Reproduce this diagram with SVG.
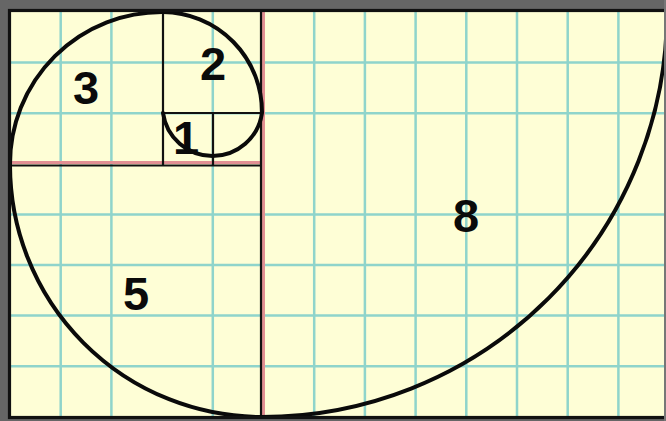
<svg xmlns="http://www.w3.org/2000/svg" width="666" height="421" viewBox="0 0 666 421">
  <style>
    .grid { stroke: #8fd4cb; stroke-width: 2.5; fill: none; }
    .edge { stroke: #111; stroke-width: 2.2; fill: none; }
    .pink { stroke: #e28f93; stroke-width: 3; fill: none; }
    .spiral { stroke: #0a0a0a; stroke-width: 4; fill: none; stroke-linecap: round; }
    .num { font-family: "Liberation Sans", Arial, sans-serif; font-weight: bold; font-size: 47px; fill: #0a0a0a; text-anchor: middle; }
  </style>
  <rect x="0" y="0" width="666" height="421" fill="#666666"/>
  <rect x="9" y="10" width="656" height="408" fill="#fefed6"/>
  <g id="grid">
    <path class="grid" d="M60.7,12V417M111.4,12V417M212.8,12V417M314.2,12V417M364.9,12V417M415.6,12V417M466.3,12V417M517,12V417M567.7,12V417M618.4,12V417"/>
    <path class="grid" d="M10,62.6H665M10,113.2H665M10,214.4H665M10,265H665M10,315.6H665M10,366.2H665"/>
  </g>
  <g id="square-8"><text class="num" x="466" y="232">8</text></g>
  <g id="square-5"><text class="num" x="136" y="310">5</text></g>
  <g id="square-3"><text class="num" x="86" y="104">3</text></g>
  <g id="square-2"><text class="num" x="213" y="80">2</text></g>
  <g id="square-1a"><text class="num" x="186" y="154">1</text></g>
  <g id="square-1b"></g>
  <g id="dividers">
    <path class="pink" d="M10,162.5H262"/>
    <path class="pink" d="M263.5,12V417"/>
    <path class="edge" d="M10,165.5H262"/>
    <path class="edge" d="M261,12V417"/>
    <path class="edge" d="M163,12V165M163,113H261M213,113V165"/>
  </g>
  <g id="connectors">
    <path class="spiral" d="M163,113 A50,50 0 0 0 262,113 A100,100 0 0 0 163,12 A152,152 0 0 0 10,164 A252,252 0 0 0 262,417 A405,405 0 0 0 667,12"/>
  </g>
  <rect x="9.5" y="10.5" width="660" height="407" fill="none" stroke="#111" stroke-width="3.2"/>
  <rect x="664" y="0" width="2" height="421" fill="#777"/>
</svg>
